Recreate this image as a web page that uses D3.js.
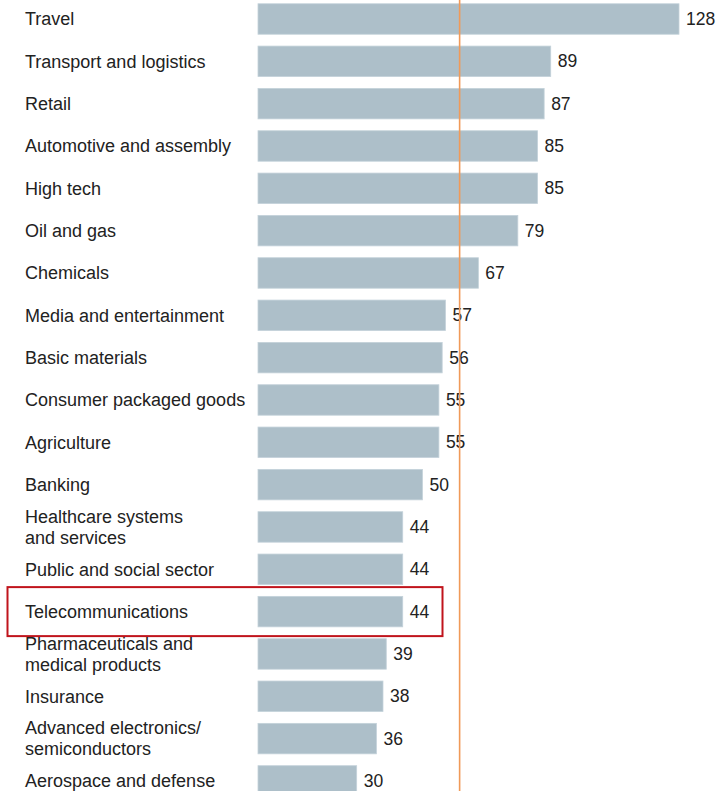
<!DOCTYPE html>
<html><head><meta charset="utf-8">
<script src="https://cdn.jsdelivr.net/npm/d3@7"></script>
<style>html,body{margin:0;padding:0;background:#fff;}svg{display:block;}</style>
</head><body>
<svg id="chart" width="728" height="791"></svg>
<script>
const categories = [
  "Travel","Transport and logistics","Retail","Automotive and assembly","High tech",
  "Oil and gas","Chemicals","Media and entertainment","Basic materials",
  "Consumer packaged goods","Agriculture","Banking","Healthcare systems\nand services",
  "Public and social sector","Telecommunications","Pharmaceuticals and\nmedical products",
  "Insurance","Advanced electronics/\nsemiconductors","Aerospace and defense"
];
const values = [128,89,87,85,85,79,67,57,56,55,55,50,44,44,44,39,38,36,30];
const averageValue = [61.3];
const highlighted = ["Telecommunications"];

const svg = d3.select("#chart");
const x = d3.scaleLinear().domain([0,128]).range([258,679]);
const y = d3.scaleBand().domain(categories).range([-2.17, -2.17 + 19*42.33]).paddingInner(0.28).paddingOuter(0.14);
const font = "'Liberation Sans', Arial, sans-serif";

// highlight box
svg.selectAll("rect.hl").data(highlighted).enter().append("rect")
  .attr("x",7.5).attr("y", d => y(d) + y.bandwidth()/2 - 24.5)
  .attr("width",435).attr("height",49)
  .attr("fill","none").attr("stroke","#c0141c").attr("stroke-width",2);

// bars
svg.selectAll("rect.bar").data(categories).enter().append("rect")
  .attr("class","bar")
  .attr("x", x(0)).attr("y", d => y(d))
  .attr("width", (d,i) => x(values[i]) - x(0))
  .attr("height", y.bandwidth())
  .attr("fill","#adbfc9").attr("stroke","#c4d2da").attr("stroke-width",0.8);

// category labels
const lab = svg.selectAll("text.cat").data(categories).enter().append("text")
  .attr("class","cat").attr("font-family",font).attr("font-size",18).attr("fill","#222");
lab.each(function(d){
  const lines = d.split("\n");
  const cy = y(d) + y.bandwidth()/2;
  const t = d3.select(this);
  lines.forEach((ln,k) => {
    t.append("tspan").attr("x",25)
     .attr("y", cy + (k - (lines.length-1)/2)*21)
     .attr("dy","0.35em").text(ln);
  });
});

// value labels
svg.selectAll("text.val").data(categories).enter().append("text")
  .attr("class","val").attr("font-family",font).attr("font-size",17.5).attr("fill","#222")
  .attr("x", (d,i) => x(values[i]) + 7)
  .attr("y", d => y(d) + y.bandwidth()/2).attr("dy","0.35em")
  .text((d,i) => values[i]);

// average line
svg.selectAll("line.avg").data(averageValue).enter().append("line")
  .attr("x1", d => x(d)).attr("x2", d => x(d))
  .attr("y1",0).attr("y2",791)
  .attr("stroke","#f09a58").attr("stroke-width",1.6);
</script>
</body></html>
